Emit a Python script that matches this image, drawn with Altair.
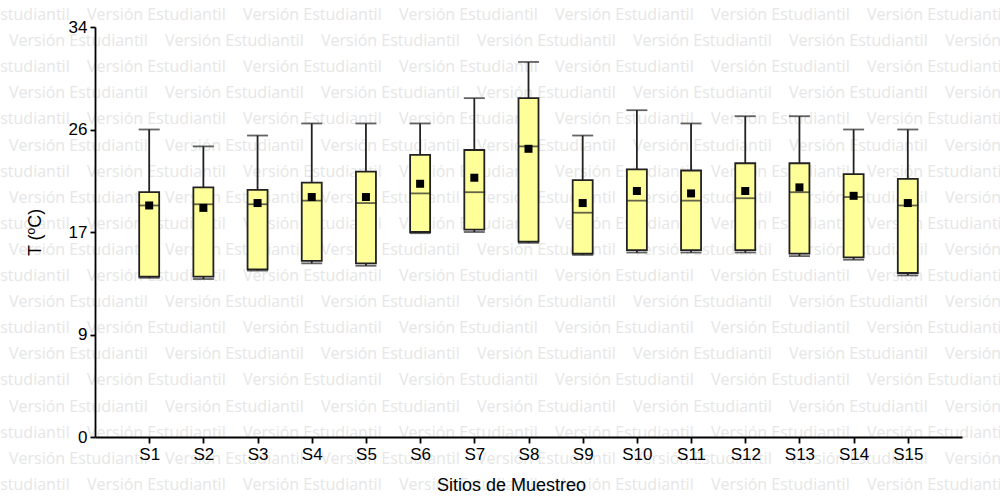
import altair as alt
import pandas as pd

sitios = ["S1", "S2", "S3", "S4", "S5", "S6", "S7", "S8", "S9", "S10", "S11", "S12", "S13", "S14", "S15"]
minimo = [13.2, 13.1, 13.8, 14.4, 14.2, 16.9, 17.0, 16.1, 15.1, 15.3, 15.3, 15.3, 15.0, 14.7, 13.4]
q1 = [13.3, 13.3, 13.9, 14.6, 14.4, 17.0, 17.2, 16.2, 15.2, 15.5, 15.5, 15.5, 15.2, 14.9, 13.6]
mediana = [19.2, 19.3, 19.3, 19.6, 19.4, 20.2, 20.3, 24.1, 18.6, 19.6, 19.6, 19.8, 20.3, 19.9, 19.2]
media = [19.2, 19.0, 19.4, 19.9, 19.9, 21.0, 21.5, 23.9, 19.4, 20.4, 20.2, 20.4, 20.7, 20.0, 19.4]
q3 = [20.3, 20.7, 20.5, 21.1, 22.0, 23.4, 23.8, 28.1, 21.3, 22.2, 22.1, 22.7, 22.7, 21.8, 21.4]
maximo = [25.5, 24.1, 25.0, 26.0, 26.0, 26.0, 28.1, 31.1, 25.0, 27.1, 26.0, 26.6, 26.6, 25.5, 25.5]

y_ticks = [0, 8.5, 17, 25.5, 34]
marca = "Versión Estudiantil"

df = pd.DataFrame({"sitio": sitios, "min": minimo, "q1": q1, "med": mediana,
                   "mean": media, "q3": q3, "max": maximo})

# watermark grid (decorative pattern)
wm_rows = []
for r in range(20):
    for c in range(-1, 8):
        wm_rows.append({"r": r, "c": c, "t": marca})
wm = pd.DataFrame(wm_rows)

FONT = "Liberation Sans"
LW = 1.8

xenc = alt.X("sitio:O", sort=sitios,
             scale=alt.Scale(type="point", padding=1),
             axis=alt.Axis(title="Sitios de Muestreo", labelAngle=0, tickSize=6,
                           labelPadding=3, titleFontSize=18,
                           titleX=416, titleY=53, titleBaseline="alphabetic", zindex=2))

yscale = alt.Scale(domain=[0, 34], nice=False, zero=True)
yaxis = alt.Axis(title="T (ºC)", values=y_ticks, labelExpr="format(round(datum.value), 'd')",
                 tickSize=5, labelPadding=3, titleFontSize=18, titlePadding=24, zindex=2)

water = alt.Chart(wm).transform_calculate(
    px="-69 + 78 * (datum.r % 2) + 156 * datum.c - 95",
    py="20 + 26.1 * datum.r - 27",
).mark_text(font="Open Sans", fontSize=16, color="#e6e6e6", align="left",
            baseline="alphabetic").encode(
    x=alt.X("px:Q", scale=None),
    y=alt.Y("py:Q", scale=None),
    text="t:N",
)

base = alt.Chart(df)

whisker = base.mark_rule(color="#222222", strokeWidth=LW).encode(
    x=xenc, y=alt.Y("min:Q", scale=yscale, axis=yaxis), y2="max:Q")
cap_top = base.mark_tick(color="#222222", size=21, thickness=LW).encode(
    x=xenc, y=alt.Y("max:Q", scale=yscale, axis=yaxis))
cap_bot = base.mark_tick(color="#222222", size=21, thickness=LW).encode(
    x=xenc, y=alt.Y("min:Q", scale=yscale, axis=yaxis))
box = base.mark_bar(size=20, fill="#ffff99", stroke="#222222", strokeWidth=LW).encode(
    x=xenc, y=alt.Y("q1:Q", scale=yscale, axis=yaxis), y2="q3:Q")
median = base.mark_tick(color="#222222", size=21, thickness=LW).encode(
    x=xenc, y=alt.Y("med:Q", scale=yscale, axis=yaxis))
mean = base.mark_square(color="black", size=64, opacity=1).encode(
    x=xenc, y=alt.Y("mean:Q", scale=yscale, axis=yaxis))

chart = alt.layer(water, whisker, cap_top, cap_bot, box, median, mean).properties(
    width=867, height=410,
    autosize=alt.AutoSizeParams(type="none"),
    padding={"left": 95, "top": 27, "right": 38, "bottom": 62},
    background="white",
).configure_view(stroke=None).configure_axis(
    labelFont=FONT, labelFontSize=17, labelColor="black",
    titleFont=FONT, titleFontWeight="normal", titleColor="black",
    tickColor="black", tickWidth=1.8, domainColor="black", domainWidth=1.8,
    grid=False,
)

chart.save("out.html", embed_options={"renderer": "svg", "actions": False})
